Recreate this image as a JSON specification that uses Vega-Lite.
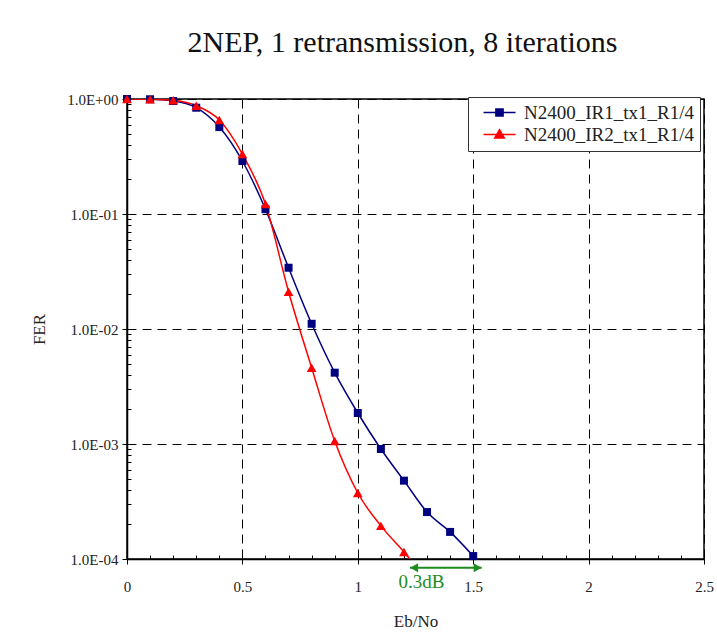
{
  "$schema": "https://vega.github.io/schema/vega-lite/v6.json",
  "width": 577,
  "height": 460,
  "autosize": {"type": "none"},
  "padding": {"left": 127, "top": 99, "right": 13, "bottom": 82},
  "background": "white",
  "title": {
    "text": "2NEP, 1 retransmission, 8 iterations",
    "font": "Liberation Serif",
    "fontSize": 30,
    "fontWeight": "normal",
    "color": "#111111",
    "anchor": "middle",
    "dx": -13,
    "offset": 34
  },
  "config": {
    "view": {"stroke": "black", "strokeWidth": 1.5},
    "axis": {
      "labelFont": "Liberation Serif",
      "labelFontSize": 15,
      "labelColor": "#222222",
      "titleFont": "Liberation Serif",
      "titleFontSize": 17,
      "titleFontWeight": "normal",
      "titleColor": "#222222",
      "domainColor": "black",
      "domainWidth": 1.5,
      "tickColor": "black",
      "tickWidth": 1,
      "gridColor": "black",
      "gridWidth": 1,
      "gridDash": [9, 6]
    }
  },
  "resolve": {
    "scale": {"shape": "independent", "size": "independent"},
    "axis": {"x": "independent", "y": "independent"}
  },
  "datasets": {
    "fer": [
      {"EbNo": 0.0, "FER": 1.0, "series": "N2400_IR1_tx1_R1/4"},
      {"EbNo": 0.1, "FER": 0.995, "series": "N2400_IR1_tx1_R1/4"},
      {"EbNo": 0.2, "FER": 0.96, "series": "N2400_IR1_tx1_R1/4"},
      {"EbNo": 0.3, "FER": 0.84, "series": "N2400_IR1_tx1_R1/4"},
      {"EbNo": 0.4, "FER": 0.57, "series": "N2400_IR1_tx1_R1/4"},
      {"EbNo": 0.5, "FER": 0.289, "series": "N2400_IR1_tx1_R1/4"},
      {"EbNo": 0.6, "FER": 0.11, "series": "N2400_IR1_tx1_R1/4"},
      {"EbNo": 0.7, "FER": 0.0341, "series": "N2400_IR1_tx1_R1/4"},
      {"EbNo": 0.8, "FER": 0.0111, "series": "N2400_IR1_tx1_R1/4"},
      {"EbNo": 0.9, "FER": 0.00417, "series": "N2400_IR1_tx1_R1/4"},
      {"EbNo": 1.0, "FER": 0.00186, "series": "N2400_IR1_tx1_R1/4"},
      {"EbNo": 1.1, "FER": 0.000905, "series": "N2400_IR1_tx1_R1/4"},
      {"EbNo": 1.2, "FER": 0.00048, "series": "N2400_IR1_tx1_R1/4"},
      {"EbNo": 1.3, "FER": 0.000256, "series": "N2400_IR1_tx1_R1/4"},
      {"EbNo": 1.4, "FER": 0.000172, "series": "N2400_IR1_tx1_R1/4"},
      {"EbNo": 1.5, "FER": 0.000106, "series": "N2400_IR1_tx1_R1/4"},
      {"EbNo": 1.6, "FER": 0.000062, "series": "N2400_IR1_tx1_R1/4"},
      {"EbNo": 0.0, "FER": 1.0, "series": "N2400_IR2_tx1_R1/4"},
      {"EbNo": 0.1, "FER": 0.995, "series": "N2400_IR2_tx1_R1/4"},
      {"EbNo": 0.2, "FER": 0.975, "series": "N2400_IR2_tx1_R1/4"},
      {"EbNo": 0.3, "FER": 0.875, "series": "N2400_IR2_tx1_R1/4"},
      {"EbNo": 0.4, "FER": 0.657, "series": "N2400_IR2_tx1_R1/4"},
      {"EbNo": 0.5, "FER": 0.332, "series": "N2400_IR2_tx1_R1/4"},
      {"EbNo": 0.6, "FER": 0.122, "series": "N2400_IR2_tx1_R1/4"},
      {"EbNo": 0.7, "FER": 0.0211, "series": "N2400_IR2_tx1_R1/4"},
      {"EbNo": 0.8, "FER": 0.0046, "series": "N2400_IR2_tx1_R1/4"},
      {"EbNo": 0.9, "FER": 0.00106, "series": "N2400_IR2_tx1_R1/4"},
      {"EbNo": 1.0, "FER": 0.000375, "series": "N2400_IR2_tx1_R1/4"},
      {"EbNo": 1.1, "FER": 0.000194, "series": "N2400_IR2_tx1_R1/4"},
      {"EbNo": 1.2, "FER": 0.000115, "series": "N2400_IR2_tx1_R1/4"},
      {"EbNo": 1.3, "FER": 0.000066, "series": "N2400_IR2_tx1_R1/4"}
    ],
    "arrow": [
      {"x": 1.226, "x2": 1.537, "y": 0.000084}
    ],
    "heads": [
      {"x": 1.244, "y": 0.000084, "dir": "left"},
      {"x": 1.519, "y": 0.000084, "dir": "right"}
    ],
    "note": [
      {"x": 1.276, "y": 0.000063, "label": "0.3dB"}
    ]
  },
  "layer": [
    {
      "data": {"name": "fer"},
      "mark": {"type": "line", "interpolate": "monotone", "strokeWidth": 1.5, "clip": true},
      "encoding": {
        "x": {
          "field": "EbNo", "type": "quantitative",
          "scale": {"domain": [0, 2.5], "nice": false, "zero": false},
          "axis": {
            "orient": "bottom",
            "title": "Eb/No",
            "values": [0, 0.5, 1, 1.5, 2, 2.5],
            "tickCount": 200,
            "labelExpr": "'' + datum.value",
            "labelPadding": 15,
            "labelFlush": false,
            "labelOverlap": false,
            "tickSize": 5,
            "grid": true,
            "titleY": 62,
            "titleBaseline": "middle"
          }
        },
        "y": {
          "field": "FER", "type": "quantitative",
          "scale": {"type": "log", "domain": [0.0001, 1], "nice": false},
          "axis": {
            "orient": "left",
            "title": "FER",
            "values": [0.0001, 0.001, 0.01, 0.1, 1],
            "tickCount": 200,
            "labelExpr": "round(log(datum.value)/LN10) == 0 ? '1.0E+00' : '1.0E-0' + (-round(log(datum.value)/LN10))",
            "labelPadding": 4,
            "labelFlush": false,
            "labelOverlap": false,
            "labelBaseline": "middle",
            "tickSize": 5,
            "grid": true,
            "titleX": -88,
            "titleY": 230,
            "titleBaseline": "middle",
            "titleAngle": -90
          }
        },
        "color": {
          "field": "series", "type": "nominal",
          "scale": {"domain": ["N2400_IR1_tx1_R1/4", "N2400_IR2_tx1_R1/4"], "range": ["#000080", "#FF0000"]},
          "legend": {
            "title": null,
            "orient": "none",
            "legendX": 341,
            "legendY": -2,
            "direction": "vertical",
            "fillColor": "white",
            "strokeColor": "#333333",
            "padding": 6,
            "rowPadding": 2,
            "labelFont": "Liberation Serif",
            "labelFontSize": 19,
            "labelColor": "#222222",
            "labelLimit": 400,
            "symbolSize": 256,
            "symbolStrokeWidth": 1.5,
            "symbolOffset": 16,
            "labelOffset": 15,
            "encode": {
              "symbols": {
                "update": {
                  "shape": {"signal": "datum.value === 'N2400_IR1_tx1_R1/4' ? 'M-2,0H2M-0.45,-0.45H0.45V0.45H-0.45Z' : 'M-2,0H2M0,-0.6L0.6,0.45L-0.6,0.45Z'"},
                  "fill": {"signal": "datum.value === 'N2400_IR1_tx1_R1/4' ? '#000080' : '#FF0000'"},
                  "stroke": {"signal": "datum.value === 'N2400_IR1_tx1_R1/4' ? '#000080' : '#FF0000'"},
                  "strokeWidth": {"value": 1.5},
                  "opacity": {"value": 1},
                  "fillOpacity": {"value": 1}
                }
              }
            }
          }
        }
      }
    },
    {
      "data": {"name": "fer"},
      "transform": [{"filter": "datum.FER >= 0.0001"}],
      "mark": {"type": "point", "filled": true, "opacity": 1, "clip": false},
      "encoding": {
        "x": {
          "field": "EbNo", "type": "quantitative",
          "axis": {
            "orient": "bottom",
            "title": null,
            "values": [0.1,0.2,0.3,0.4,0.6,0.7,0.8,0.9,1.1,1.2,1.3,1.4,1.6,1.7,1.8,1.9,2.1,2.2,2.3,2.4],
            "tickCount": 200,
            "labels": false,
            "domain": false,
            "grid": false,
            "tickSize": -4
          }
        },
        "y": {
          "field": "FER", "type": "quantitative",
          "axis": {
            "orient": "left",
            "title": null,
            "values": [0.0002,0.0003,0.0004,0.0005,0.0006,0.0007,0.0008,0.0009,0.002,0.003,0.004,0.005,0.006,0.007,0.008,0.009,0.02,0.03,0.04,0.05,0.06,0.07,0.08,0.09,0.2,0.3,0.4,0.5,0.6,0.7,0.8,0.9],
            "tickCount": 200,
            "labels": false,
            "domain": false,
            "grid": false,
            "tickSize": -4
          }
        },
        "color": {"field": "series", "type": "nominal", "legend": null},
        "shape": {
          "field": "series", "type": "nominal",
          "scale": {"domain": ["N2400_IR1_tx1_R1/4", "N2400_IR2_tx1_R1/4"], "range": ["square", "triangle-up"]},
          "legend": null
        },
        "size": {
          "field": "series", "type": "ordinal",
          "scale": {"domain": ["N2400_IR1_tx1_R1/4", "N2400_IR2_tx1_R1/4"], "range": [64, 95]},
          "legend": null
        }
      }
    },
    {
      "data": {"name": "arrow"},
      "mark": {"type": "rule", "color": "#1e8c1e", "strokeWidth": 2, "clip": false},
      "encoding": {
        "x": {"field": "x", "type": "quantitative", "axis": null},
        "x2": {"field": "x2"},
        "y": {"field": "y", "type": "quantitative", "axis": null}
      }
    },
    {
      "data": {"name": "heads"},
      "mark": {"type": "point", "filled": true, "color": "#1e8c1e", "opacity": 1, "clip": false},
      "encoding": {
        "x": {"field": "x", "type": "quantitative", "axis": null},
        "y": {"field": "y", "type": "quantitative", "axis": null},
        "shape": {
          "field": "dir", "type": "nominal",
          "scale": {"domain": ["left", "right"], "range": ["triangle-left", "triangle-right"]},
          "legend": null
        },
        "size": {"value": 80}
      }
    },
    {
      "data": {"name": "note"},
      "mark": {"type": "text", "color": "#1e8c1e", "font": "Liberation Serif", "fontSize": 19, "align": "center", "baseline": "middle", "clip": false},
      "encoding": {
        "x": {"field": "x", "type": "quantitative", "axis": null},
        "y": {"field": "y", "type": "quantitative", "axis": null},
        "text": {"field": "label"}
      }
    }
  ]
}
